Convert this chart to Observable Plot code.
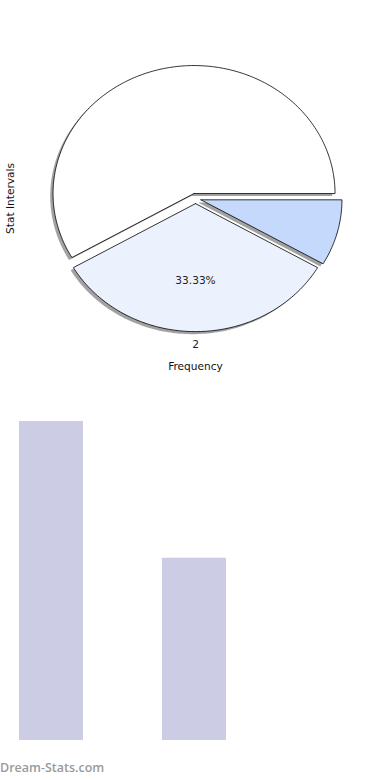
<!DOCTYPE html>
<html>
<head>
<meta charset="utf-8">
<script src="https://cdn.jsdelivr.net/npm/d3@7"></script>
<script src="https://cdn.jsdelivr.net/npm/@observablehq/plot@0.6"></script>
<style>
  html, body { margin: 0; padding: 0; background: #fff; }
  #wrap { position: relative; width: 390px; height: 780px; overflow: hidden; font-family: "DejaVu Sans", sans-serif; }
  #wrap svg { display: block; }
  #mark { position: absolute; left: 0; top: 760px; font: 600 12.5px "Open Sans", sans-serif; color: #9a9a9a; line-height: 16px; }
</style>
</head>
<body>
<div id="wrap"><div id="pie"></div><div id="bars"></div><div id="mark">Dream-Stats.com</div></div>
<script>
// ---- data ----
const pieLabels = ["", "2", ""];
const pieValues = [7, 4, 1];
const pieColors = ["#ffffff", "#ebf1fd", "#c5d9fd"];
const pieExplode = [0.04, 0.04, 0.04];
const pieShowPct = [false, true, false];

const barCategories = ["1", "2", "3"];
const barValues = [7, 4, 0];
const barColor = "#cccce4";

const xLabel = "Frequency";
const yLabel = "Stat Intervals";

// ---- pie geometry (data coordinates, unit radius) ----
const total = d3.sum(pieValues);
let acc = 0;
const slices = pieValues.map((v, i) => {
  const a0 = acc / total * 360;
  acc += v;
  const a1 = acc / total * 360;
  const mid = (a0 + a1) / 2 * Math.PI / 180;
  const ox = pieExplode[i] * Math.cos(mid), oy = pieExplode[i] * Math.sin(mid);
  const pts = [{x: ox, y: oy}];
  const n = Math.max(4, Math.ceil(a1 - a0));
  for (let k = 0; k <= n; k++) {
    const a = (a0 + (a1 - a0) * k / n) * Math.PI / 180;
    pts.push({x: ox + Math.cos(a), y: oy + Math.sin(a)});
  }
  pts.push({x: ox, y: oy});
  return {i, pts, mid, ox, oy, pct: (v / total * 100).toFixed(2) + "%"};
});

const shadowMarks = slices.map(s => Plot.line(s.pts.map(p => ({x: p.x - 0.02, y: p.y - 0.02})),
  {x: "x", y: "y", fill: "#555", fillOpacity: 0.55, stroke: "none", curve: "linear"}));
const wedgeMarks = slices.map(s => Plot.line(s.pts,
  {x: "x", y: "y", fill: pieColors[s.i], stroke: "#000", strokeWidth: 0.8, strokeLinejoin: "miter", curve: "linear"}));

const pctData = slices.filter(s => pieShowPct[s.i]).map(s => ({x: s.ox + 0.6 * Math.cos(s.mid), y: s.oy + 0.6 * Math.sin(s.mid), t: s.pct}));
const labData = slices.filter(s => pieLabels[s.i] !== "").map(s => ({x: s.ox + 1.1 * Math.cos(s.mid), y: s.oy + 1.1 * Math.sin(s.mid), t: pieLabels[s.i]}));

const pie = Plot.plot({
  width: 390, height: 390,
  marginLeft: 54, marginRight: 54, marginTop: 70, marginBottom: 64,
  x: {domain: [-1, 1], axis: null},
  y: {domain: [-1, 1], axis: null},
  style: {fontFamily: "DejaVu Sans, sans-serif", fontSize: "10.6px", overflow: "visible"},
  marks: [
    ...shadowMarks,
    ...wedgeMarks,
    Plot.text(pctData, {x: "x", y: "y", text: "t", fill: "#222", fontSize: 10.6}),
    Plot.text(labData, {x: "x", y: "y", text: "t", fill: "#222", fontSize: 10.6}),
    Plot.text([xLabel], {frameAnchor: "bottom", dy: 40, textAnchor: "middle", lineAnchor: "middle", text: d => d, fill: "#111", fontSize: 10.6}),
    Plot.text([yLabel], {frameAnchor: "left", dx: -44, rotate: -90, textAnchor: "middle", lineAnchor: "middle", text: d => d, fill: "#111", fontSize: 10.6})
  ]
});
document.getElementById("pie").append(pie);

const bars = Plot.plot({
  width: 390, height: 360,
  marginLeft: 19, marginRight: 20, marginTop: 31, marginBottom: 10,
  x: {domain: barCategories, paddingInner: 0.554, paddingOuter: 0, align: 0, axis: null},
  y: {domain: [0, 7], axis: null},
  marks: [
    Plot.barY(barCategories.map((c, i) => ({c, v: barValues[i]})), {x: "c", y: "v", fill: barColor})
  ]
});
document.getElementById("bars").append(bars);
</script>
</body>
</html>
